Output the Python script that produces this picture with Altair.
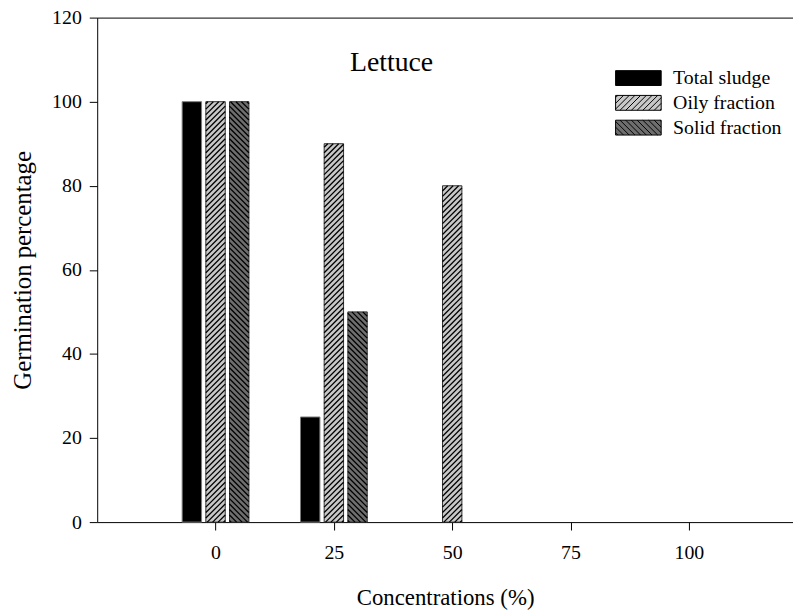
import altair as alt
import pandas as pd

# ---------------- data ----------------
concentrations = [0, 25, 50, 75, 100]
series_names = ["Total sludge", "Oily fraction", "Solid fraction"]
total_sludge = [100, 25, 0, 0, 0]
oily_fraction = [100, 90, 80, 0, 0]
solid_fraction = [100, 50, 0, 0, 0]
y_ticks = [0, 20, 40, 60, 80, 100, 120]
panel_title = "Lettuce"
x_title = "Concentrations (%)"
y_title = "Germination percentage"

rows = []
for name, vals in zip(series_names, [total_sludge, oily_fraction, solid_fraction]):
    for c, v in zip(concentrations, vals):
        rows.append({"conc": c, "series": name, "value": v})
df = pd.DataFrame(rows)

# ---------------- style / geometry ----------------
W, H = 702, 509
X_DOM = [-25, 122]
Y_DOM = [0, 120]
KX = W / (X_DOM[1] - X_DOM[0])     # px per x unit
KY = H / (Y_DOM[1] - Y_DOM[0])     # px per y unit
R = KY / KX
HALF = 2.05          # half bar width (x units)
OFF = 5              # offset of side bars in a group (x units)
PERIOD = 5.5         # hatch period (px)
S = PERIOD / KY
FONT = "Liberation Serif"
FILLS = ["#000000", "#c8c8c8", "#6e6e6e"]


def swatch_path(direction, half_w_px=23.0, half_h_px=7.5, period_px=5.75):
    u = half_h_px  # one path unit = sqrt(size)/2 px
    a = half_w_px / u
    p = period_px / u
    parts = [f"M{-a:.3f},-1L{a:.3f},-1L{a:.3f},1L{-a:.3f},1Z"]
    if direction != 0:
        x0 = -a - 2 + 0.3
        while x0 < a:
            t_lo = max(0.0, -a - x0)
            t_hi = min(2.0, a - x0)
            if t_hi > t_lo + 1e-3:
                if direction > 0:
                    ya, yb = 1 - t_lo, 1 - t_hi
                else:
                    ya, yb = -1 + t_lo, -1 + t_hi
                parts.append(f"M{x0 + t_lo:.3f},{ya:.3f}L{x0 + t_hi:.3f},{yb:.3f}")
            x0 += p
    return "".join(parts)


RECT_PATH = swatch_path(0)
OILY_PATH = swatch_path(1)
SOLID_PATH = swatch_path(-1)
shape_expr = (
    f"datum.label === 'Oily fraction' ? '{OILY_PATH}' : "
    f"(datum.label === 'Solid fraction' ? '{SOLID_PATH}' : '{RECT_PATH}')"
)

x_scale = alt.Scale(domain=X_DOM, nice=False, zero=False)
y_scale = alt.Scale(domain=Y_DOM, nice=False)

offset_expr = (
    f"datum.series == 'Total sludge' ? {-OFF} : "
    f"(datum.series == 'Solid fraction' ? {OFF} : 0)"
)

base = alt.Chart(df).transform_filter("datum.value > 0").transform_calculate(
    off=offset_expr
).transform_calculate(
    xl=f"datum.conc + datum.off - {HALF}",
    xr=f"datum.conc + datum.off + {HALF}",
    zero="0",
)

bars = base.mark_rect(strokeWidth=1).encode(
    x=alt.X(
        "xl:Q",
        scale=x_scale,
        axis=alt.Axis(
            values=concentrations,
            format="d",
            labelFontSize=20,
            tickSize=8,
            labelPadding=13,
            title=x_title,
            titleFontSize=23,
            titlePadding=24,
        ),
    ),
    x2="xr:Q",
    y=alt.Y(
        "value:Q",
        scale=y_scale,
        axis=alt.Axis(
            orient="left",
            values=y_ticks,
            labelFontSize=20,
            tickSize=8,
            labelPadding=8,
            title=y_title,
            titleFontSize=25,
            titlePadding=16,
        ),
    ),
    y2="zero:Q",
    fill=alt.Fill(
        "series:N",
        scale=alt.Scale(domain=series_names, range=FILLS),
        legend=alt.Legend(
            title=None,
            orient="none",
            legendX=536,
            legendY=51,
            direction="vertical",
            labelFont=FONT,
            labelFontSize=20,
            labelColor="black",
            symbolSize=225,
            symbolType=alt.ExprRef(expr=shape_expr),
            symbolStrokeColor="black",
            symbolStrokeWidth=1,
            labelOffset=25,
            rowPadding=5,
            padding=0,
        ),
    ),
    stroke=alt.when(alt.datum.series == "Total sludge")
    .then(alt.value("#7a7a7a"))
    .otherwise(alt.value("#303030")),
)

hatch = base.transform_filter("datum.series != 'Total sludge'").transform_calculate(
    hd="datum.series == 'Oily fraction' ? 1 : -1",
    dd=f"(datum.xr - datum.xl) / {R}",
).transform_calculate(
    cs=f"sequence(-datum.dd + 0.4, datum.value, {S})"
).transform_flatten(["cs"]).transform_calculate(
    ya="datum.hd > 0 ? max(datum.cs, 0) : min(datum.cs + datum.dd, datum.value)",
    yb="datum.hd > 0 ? min(datum.cs + datum.dd, datum.value) : max(datum.cs, 0)",
).transform_calculate(
    xa=f"datum.hd > 0 ? datum.xl + (datum.ya - datum.cs) * {R} : datum.xl + (datum.cs + datum.dd - datum.ya) * {R}",
    xb=f"datum.hd > 0 ? datum.xl + (datum.yb - datum.cs) * {R} : datum.xl + (datum.cs + datum.dd - datum.yb) * {R}",
).transform_filter("abs(datum.xb - datum.xa) > 0.01").mark_rule(
    color="black", strokeWidth=1.3
).encode(
    x=alt.X(
        "xa:Q",
        scale=x_scale,
        axis=alt.Axis(orient="top", labels=False, ticks=False, domain=True, title=None),
    ),
    x2="xb:Q",
    y=alt.Y("ya:Q", scale=y_scale, axis=None),
    y2="yb:Q",
)

title_layer = alt.Chart(pd.DataFrame({"t": [panel_title]})).mark_text(
    font=FONT, fontSize=28, align="center", baseline="alphabetic", color="black"
).encode(x=alt.value(297), y=alt.value(54), text="t:N")

chart = (
    alt.layer(bars, hatch, title_layer)
    .resolve_axis(x="independent", y="independent")
    .properties(
        width=W,
        height=H,
        padding={"left": 90, "top": 7, "right": 0, "bottom": 87},
        autosize=alt.AutoSizeParams(type="none"),
    )
    .configure_view(stroke=None)
    .configure_axis(
        labelFont=FONT,
        titleFont=FONT,
        labelColor="black",
        titleColor="black",
        tickColor="black",
        domainColor="black",
        grid=False,
        titleFontWeight="normal",
    )
)

chart.save("out.html", embed_options={"renderer": "svg", "actions": False})
